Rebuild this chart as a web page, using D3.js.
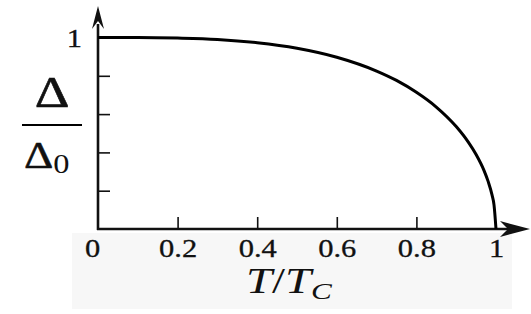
<!DOCTYPE html>
<html>
<head>
<meta charset="utf-8">
<script src="https://cdn.jsdelivr.net/npm/d3@7"></script>
<style>
  html, body { margin: 0; padding: 0; background: #fff; }
  svg { display: block; }
  text { font-family: "Liberation Serif", "DejaVu Serif", serif; fill: #111; }
</style>
</head>
<body>
<div class="canvas"></div>
<script>
// reduced temperature T/Tc and gap ratio Δ/Δ0
const temps = [0, 0.1, 0.2, 0.3, 0.4, 0.5, 0.6, 0.7, 0.75, 0.8, 0.85, 0.9, 0.93, 0.95, 0.97, 0.98, 0.99, 0.995, 1];
const gaps  = [1, 1, 0.997, 0.99, 0.973, 0.944, 0.897, 0.825, 0.776, 0.714, 0.637, 0.535, 0.455, 0.389, 0.305, 0.25, 0.178, 0.126, 0];

const xTicks = [0, 0.2, 0.4, 0.6, 0.8, 1];
const xTickLabels = ["0", "0.2", "0.4", "0.6", "0.8", "1"];
const yMinorTicks = [0.2, 0.4, 0.6, 0.8];
const yTickLabels = ["1"];

const W = 531, H = 314;
const svg = d3.select('.canvas').append('svg')
    .attr('width', W)
    .attr('height', H)

// faint scan tint behind tick labels
svg.append('rect')
    .attr('x', 72).attr('y', 233)
    .attr('width', 440).attr('height', 76)
    .attr('fill', '#f7f7f7')

const x = d3.scaleLinear().domain([0, 1]).range([98, 496])
const y = d3.scaleLinear().domain([0, 1]).range([229, 37.5])

const axisColor = '#111'

// y ticks (inside, pointing right)
svg.append('g')
    .attr('transform', `translate(${x(0)},0)`)
    .call(d3.axisRight(y).tickValues(yMinorTicks).tickSize(12).tickFormat(''))
    .call(g => g.select('.domain').remove())
    .call(g => g.selectAll('line').attr('stroke', axisColor).attr('stroke-width', 1.6))

// x ticks (inside, pointing up)
svg.append('g')
    .attr('transform', `translate(0,${y(0)})`)
    .call(d3.axisTop(x).tickValues(xTicks.slice(1, -1)).tickSize(12).tickFormat(''))
    .call(g => g.select('.domain').remove())
    .call(g => g.selectAll('line').attr('stroke', axisColor).attr('stroke-width', 1.6))

// x tick labels
svg.append('g')
    .attr('transform', `translate(0,${y(0)})`)
    .call(d3.axisBottom(x).tickValues(xTicks).tickSize(0).tickFormat((d, i) => xTickLabels[i]))
    .call(g => g.select('.domain').remove())
    .call(g => g.selectAll('text')
        .attr('y', 28)
        .attr('dy', 0)
        .style('font-size', '25px')
        .style('font-family', '"Liberation Serif", serif')
        .attr('fill', '#111')
        .attr('stroke', '#111').attr('stroke-width', 0.3)
        .attr('transform', (d) => `translate(${d === 0 ? -6 : 0},0) scale(1.22,1)`))

// y tick label "1"
svg.append('g')
    .attr('transform', `translate(${x(0)},0)`)
    .call(d3.axisLeft(y).tickValues([1]).tickSize(0).tickFormat((d, i) => yTickLabels[i]))
    .call(g => g.select('.domain').remove())
    .call(g => g.selectAll('text')
        .attr('x', 0)
        .attr('dy', '0.34em')
        .style('font-size', '25px')
        .style('font-family', '"Liberation Serif", serif')
        .attr('fill', '#111')
        .attr('stroke', '#111').attr('stroke-width', 0.3)
        .attr('transform', 'translate(-16,0) scale(1.22,1)'))

// axes lines
svg.append('line')
    .attr('x1', x(0)).attr('x2', x(0))
    .attr('y1', y(0) + 1).attr('y2', 24)
    .attr('stroke', axisColor).attr('stroke-width', 2.6)
svg.append('line')
    .attr('x1', x(0) - 1).attr('x2', 512)
    .attr('y1', y(0)).attr('y2', y(0))
    .attr('stroke', axisColor).attr('stroke-width', 2.6)

// arrow heads
svg.append('path')
    .attr('d', `M${x(0)},6 L${x(0) + 6},29 Q${x(0)},21 ${x(0)},21 Q${x(0)},21 ${x(0) - 6},29 Z`)
    .attr('fill', axisColor)
svg.append('path')
    .attr('d', `M530,${y(0)} L500,${y(0) - 8} Q508,${y(0)} 508,${y(0)} Q508,${y(0)} 500,${y(0) + 8} Z`)
    .attr('fill', axisColor)

// gap curve
const line = d3.line()
    .x((d, i) => x(temps[i]))
    .y((d) => y(d))
    .curve(d3.curveMonotoneX)

svg.append('path')
    .datum(gaps)
    .attr('d', line)
    .attr('fill', 'none')
    .attr('stroke', '#000')
    .attr('stroke-width', 3)

// y label: Δ over Δ0
svg.append('text')
    .attr('transform', 'translate(52,107) scale(1.2,1)')
    .attr('text-anchor', 'middle')
    .attr('font-size', 45)
    .attr('stroke', '#111').attr('stroke-width', 0.6)
    .text('Δ')
svg.append('line')
    .attr('x1', 22).attr('x2', 82)
    .attr('y1', 125).attr('y2', 125)
    .attr('stroke', '#000').attr('stroke-width', 2.2)
const den = svg.append('text')
    .attr('transform', 'translate(24,168) scale(1.2,1)')
    .attr('font-size', 38)
den.append('tspan').attr('stroke', '#111').attr('stroke-width', 0.5).text('Δ')
den.append('tspan').attr('font-size', 27).attr('dy', 5).text('0')

// x label: T/T_C
const xl = svg.append('text')
    .attr('transform', 'translate(246,293) scale(1.3,1)')
    .attr('font-size', 36)
xl.append('tspan').attr('font-style', 'italic').text('T')
xl.append('tspan').text('/')
xl.append('tspan').attr('font-style', 'italic').text('T')
xl.append('tspan').attr('font-style', 'italic').attr('font-size', 24).attr('dy', 6).text('C')
</script>
</body>
</html>
